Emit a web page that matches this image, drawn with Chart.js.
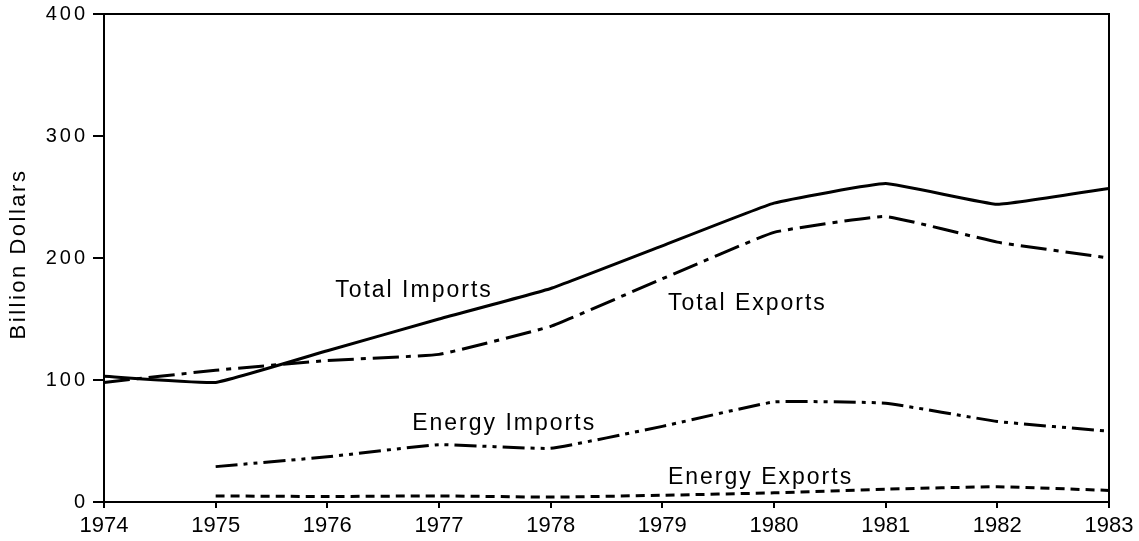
<!DOCTYPE html>
<html>
<head>
<meta charset="utf-8">
<script src="https://cdn.jsdelivr.net/npm/chart.js@4"></script>
<style>
  html, body { margin: 0; padding: 0; background: #fff; }
  canvas { display: block; }
</style>
</head>
<body>
<canvas id="myChart" width="1139" height="541"></canvas>
<script>
let years = ['1974', '1975', '1976', '1977', '1978', '1979', '1980', '1981', '1982', '1983'];

let totalImports = [103, 98, 124, 150, 175, 210, 245, 261, 244, 257];
let totalExports = [98, 108, 116, 121, 144, 183, 221, 234, 213, 200];
let energyImports = [null, 29, 37, 47, 44, 62, 82, 81, 66, 58];
let energyExports = [null, 5, 4.5, 5, 4, 5.5, 7.5, 10.5, 12.5, 9.5];

let yTicks = [0, 100, 200, 300, 400];
let yTitle = 'Billion Dollars';

// text labels placed in data units (category index, value)
const notes = [
    { text: 'Total Imports', x: 2.07, y: 168 },
    { text: 'Total Exports', x: 5.05, y: 157 },
    { text: 'Energy Imports', x: 2.76, y: 59 },
    { text: 'Energy Exports', x: 5.05, y: 14.5 }
];

const fontFamily = "'Liberation Sans', Arial, sans-serif";

// in-plot labels, y tick labels and y title drawn by hand (wide letter spacing)
const textLayer = {
    id: 'textLayer',
    afterDraw(chart) {
        const ctx = chart.ctx;
        const xs = chart.scales.x, ys = chart.scales.y;
        ctx.save();
        ctx.fillStyle = '#000';
        ctx.textBaseline = 'alphabetic';

        ctx.font = '23px ' + fontFamily;
        ctx.letterSpacing = '2px';
        ctx.textAlign = 'left';
        notes.forEach(n => {
            ctx.fillText(n.text, xs.getPixelForValue(n.x), ys.getPixelForValue(n.y));
        });

        ctx.font = '20px ' + fontFamily;
        ctx.letterSpacing = '3px';
        ctx.textAlign = 'right';
        ctx.textBaseline = 'middle';
        yTicks.forEach(v => {
            ctx.fillText(String(v), ys.left + 85 + 3, ys.getPixelForValue(v));
        });

        ctx.font = '22px ' + fontFamily;
        ctx.letterSpacing = '2.5px';
        ctx.textAlign = 'center';
        ctx.textBaseline = 'alphabetic';
        ctx.translate(25, 254);
        ctx.rotate(-Math.PI / 2);
        ctx.fillText(yTitle, 0, 0);
        ctx.restore();
    }
};

const frame = {
    id: 'frame',
    beforeDraw(chart) {
        const ctx = chart.ctx;
        ctx.save();
        ctx.fillStyle = '#fff';
        ctx.fillRect(0, 0, chart.width, chart.height);
        ctx.restore();
    },
    afterDraw(chart) {
        const a = chart.chartArea;
        const ctx = chart.ctx;
        ctx.save();
        ctx.strokeStyle = '#000';
        ctx.lineWidth = 2;
        ctx.strokeRect(a.left, a.top, a.right - a.left, a.bottom - a.top);
        ctx.restore();
    }
};

function line(values, dash) {
    return {
        data: values,
        borderColor: '#000',
        borderWidth: 3,
        borderDash: dash,
        pointRadius: 0,
        fill: false,
        tension: 0.1,
        spanGaps: false
    };
}

const data = {
    labels: years,
    datasets: [
        line(totalImports, []),
        line(totalExports, [26, 7, 5, 7]),
        line(energyImports, [22, 6, 4, 6, 4, 6]),
        line(energyExports, [9, 6])
    ]
};

const config = {
    type: 'line',
    data: data,
    plugins: [frame, textLayer],
    options: {
        responsive: false,
        animation: false,
        devicePixelRatio: 1,
        layout: { padding: { top: 14, right: 30, left: 0, bottom: 0 } },
        plugins: {
            legend: { display: false },
            tooltip: { enabled: false }
        },
        scales: {
            x: {
                type: 'category',
                offset: false,
                grid: {
                    display: true,
                    drawOnChartArea: false,
                    drawTicks: true,
                    tickLength: 6,
                    color: '#000',
                    lineWidth: 2
                },
                border: { display: true, color: '#000', width: 2 },
                ticks: {
                    color: '#000',
                    font: { family: fontFamily, size: 22 },
                    padding: 5,
                    maxRotation: 0,
                    autoSkip: false
                },
                afterFit(scale) { scale.height = 39; }
            },
            y: {
                min: 0,
                max: 400,
                afterBuildTicks(scale) {
                    scale.ticks = yTicks.map(v => ({ value: v }));
                },
                grid: {
                    display: true,
                    drawOnChartArea: false,
                    drawTicks: true,
                    tickLength: 11,
                    color: '#000',
                    lineWidth: 2
                },
                border: { display: true, color: '#000', width: 2 },
                ticks: { display: false },
                afterFit(scale) { scale.width = 104; }
            }
        }
    }
};

const chart = new Chart(document.getElementById('myChart'), config);
</script>
</body>
</html>
